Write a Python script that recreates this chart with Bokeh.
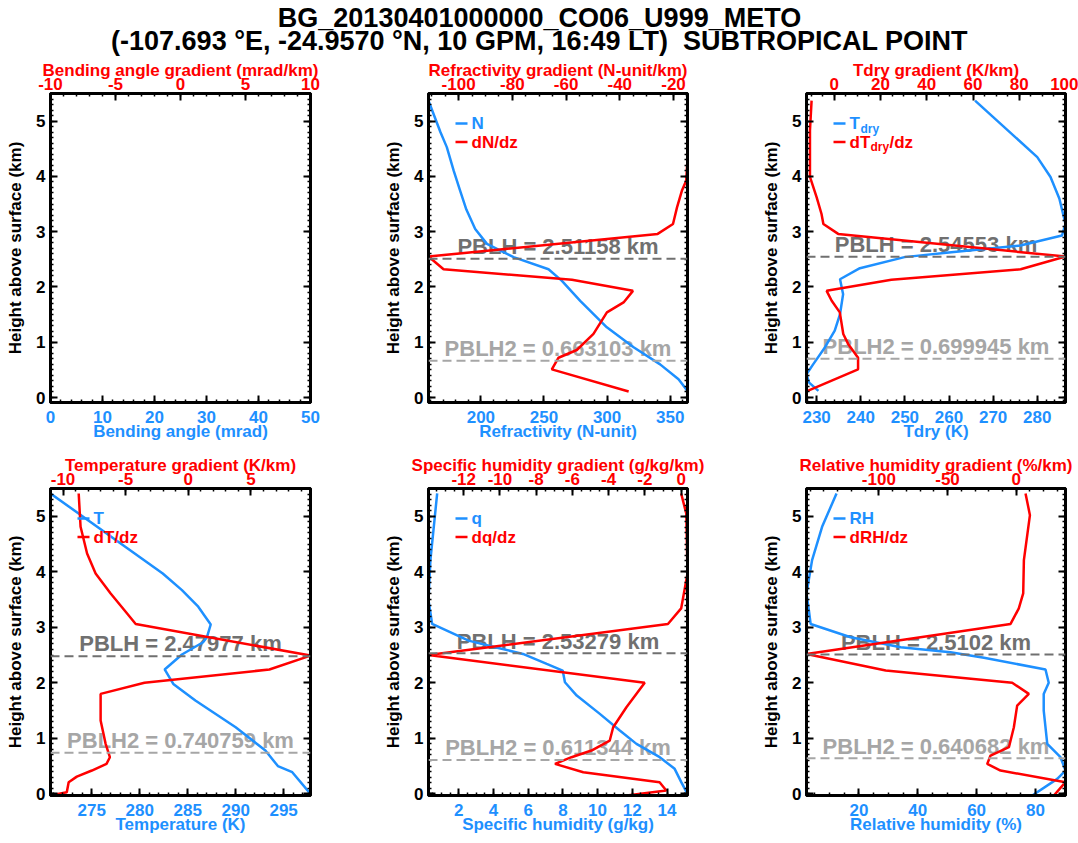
import numpy as np
from bokeh.plotting import figure
from bokeh.models import Range1d, LinearAxis, FixedTicker, Span, PrintfTickFormatter
from bokeh.layouts import column, row
from bokeh.embed import file_html
from bokeh.resources import INLINE
from bokeh.core.properties import value

BLUE = "#1E90FF"
RED = "#FF0000"
DARK = "#707070"
LIGHT = "#A6A6A6"
FONT = "Liberation Sans"

title_line1 = "BG_20130401000000_CO06_U999_METO"
title_line2 = "(-107.693 °E, -24.9570 °N, 10 GPM, 16:49 LT)\u00a0 SUBTROPICAL POINT"

# ---------------- data (height in km, value) ----------------
# Refractivity
n_z = [5.37, 4.80, 4.53, 4.10, 3.74, 3.40, 3.05, 2.78, 2.54, 2.32, 2.11, 1.75, 1.27, 0.91, 0.60, 0.33, 0.12]
n_val = [158.5, 168.0, 173.0, 178.5, 183.6, 188.5, 195.5, 204.8, 225.9, 253.6, 264.2, 278.7, 299.8, 321.0, 342.0, 356.6, 363.7]
dn_z = [5.37, 4.23, 3.92, 3.74, 3.44, 3.14, 2.96, 2.55, 2.32, 2.13, 1.93, 1.72, 1.54, 1.15, 0.86, 0.72, 0.51, 0.11]
dn_val = [-14.8, -14.9, -15.3, -16.9, -18.7, -20.2, -25.9, -111.2, -105.6, -57.8, -35.1, -38.6, -44.8, -49.8, -56.0, -62.8, -65.3, -36.7]

# Dry temperature
td_z = [5.37, 4.35, 3.99, 3.60, 3.14, 2.93, 2.75, 2.63, 2.54, 2.34, 2.14, 1.87, 1.51, 1.21, 0.91, 0.60, 0.42, 0.27, 0.12]
td_val = [265.9, 280.0, 283.0, 285.0, 286.4, 285.6, 276.2, 260.5, 249.9, 239.8, 235.3, 236.0, 235.3, 234.1, 231.9, 229.2, 227.7, 228.3, 230.4]
dtd_z = [5.37, 4.83, 3.99, 3.62, 3.32, 3.14, 2.96, 2.55, 2.32, 2.13, 1.93, 1.75, 1.54, 1.15, 0.97, 0.72, 0.51, 0.11]
dtd_val = [-9.8, -10.5, -10.5, -7.6, -5.5, -4.7, 1.7, 100.0, 80.6, 24.7, -3.3, -1.1, 2.4, 3.9, 6.0, 10.3, 10.3, -12.0]

# Temperature
t_z = [5.41, 3.97, 3.67, 3.37, 3.05, 2.82, 2.73, 2.51, 2.24, 1.98, 1.68, 1.20, 0.78, 0.50, 0.39, 0.00]
t_val = [270.7, 282.4, 284.4, 286.1, 287.4, 287.0, 286.6, 284.4, 282.6, 283.5, 285.8, 290.0, 293.1, 294.4, 295.9, 297.8]
dt_z = [5.41, 4.81, 4.33, 3.97, 3.61, 3.28, 3.06, 2.49, 2.24, 2.00, 1.80, 1.32, 0.90, 0.66, 0.54, 0.42, 0.31, 0.21, 0.03, -0.03]
dt_val = [-8.75, -8.6, -8.08, -7.4, -6.2, -5.0, -4.2, 9.75, 6.47, -3.5, -7.0, -7.0, -6.6, -6.26, -6.53, -7.7, -8.9, -9.55, -9.7, -11.0]

# Specific humidity
q_z = [5.41, 4.21, 3.49, 3.06, 2.76, 2.64, 2.52, 2.34, 2.22, 2.01, 1.77, 1.44, 1.14, 0.90, 0.66, 0.45, 0.21, 0.00]
q_val = [0.76, 0.37, 0.26, 0.47, 2.57, 4.10, 5.70, 7.07, 7.99, 8.12, 8.80, 10.13, 11.28, 12.24, 13.58, 14.44, 14.82, 15.18]
dq_z = [5.41, 5.05, 3.97, 3.34, 3.06, 2.50, 2.00, 1.56, 1.20, 0.96, 0.78, 0.66, 0.54, 0.39, 0.21, 0.06, -0.03]
dq_val = [0.0, 0.28, 0.35, 0.0, -0.73, -13.94, -2.01, -3.02, -3.75, -3.94, -4.95, -6.05, -6.96, -5.4, -1.19, -0.82, -3.0]

# Relative humidity
rh_z = [5.41, 4.81, 4.21, 3.61, 3.31, 3.06, 2.82, 2.64, 2.55, 2.45, 2.24, 2.00, 1.80, 1.50, 0.90, 0.66, 0.42, 0.27, -0.03]
rh_val = [12.4, 7.5, 4.1, 2.2, 3.0, 3.6, 17.2, 34.2, 51.1, 62.5, 83.4, 84.5, 82.8, 82.8, 84.0, 88.5, 90.2, 87.4, 78.9]
drh_z = [5.41, 5.02, 4.21, 3.61, 3.34, 3.06, 2.52, 2.22, 2.00, 1.80, 1.59, 1.20, 0.84, 0.69, 0.54, 0.42, 0.21, -0.03]
drh_val = [6.8, 10.0, 5.6, 5.1, 1.9, -4.1, -152.7, -95.0, -2.9, 9.2, 0.7, -1.7, -5.3, -18.7, -21.1, -11.4, 35.9, 27.4]

# PBLH values (km)
pblh_n, pblh2_n = 2.51158, 0.663103
pblh_td, pblh2_td = 2.54553, 0.699945
pblh_t, pblh2_t = 2.47977, 0.740759
pblh_q, pblh2_q = 2.53279, 0.611344
pblh_rh, pblh2_rh = 2.5102, 0.640682

# tick values
y_ticks = [0, 1, 2, 3, 4, 5]
ba_ticks, ba_top_ticks = [0, 10, 20, 30, 40, 50], [-10, -5, 0, 5, 10]
n_ticks, dn_ticks = [200, 250, 300, 350], [-100, -80, -60, -40, -20]
td_ticks, dtd_ticks = [230, 240, 250, 260, 270, 280], [0, 20, 40, 60, 80, 100]
t_ticks, dt_ticks = [275, 280, 285, 290, 295], [-10, -5, 0, 5]
q_ticks, dq_ticks = [2, 4, 6, 8, 10, 12, 14], [-12, -10, -8, -6, -4, -2, 0]
rh_ticks, drh_ticks = [20, 40, 60, 80], [-100, -50, 0]

# ---------------- geometry ----------------
TITLE_H = 56
COLS = [(50, 260, 65), (53, 259, 63), (56, 259, 13)]
ROWS = [(37, 309, 45, (-0.09, 5.5)), (41, 307, 48, (-0.03, 5.5))]


def minor(lo, hi, step):
    k0 = int(np.floor(lo / step)) - 1
    k1 = int(np.ceil(hi / step)) + 1
    return [round(k * step, 6) for k in range(k0, k1 + 1)]


def style_axis(ax, color):
    ax.formatter = PrintfTickFormatter(format="%d")
    ax.major_label_text_font = FONT
    ax.major_label_text_font_style = "bold"
    ax.major_label_text_font_size = "17px"
    ax.major_label_text_color = color
    ax.axis_label_text_font = FONT
    ax.axis_label_text_font_style = "bold"
    ax.axis_label_text_font_size = "17px"
    ax.axis_label_text_color = color
    ax.major_tick_in = 7
    ax.major_tick_out = 0
    ax.minor_tick_in = 3
    ax.minor_tick_out = 0
    ax.major_tick_line_width = 2
    ax.minor_tick_line_width = 1.5
    ax.major_tick_line_color = "black"
    ax.minor_tick_line_color = "black"
    ax.axis_line_width = 3
    ax.axis_line_color = "black"


def panel(ci, ri, xr, tr, xt, xm, tt, tm, xlabel, tlabel,
          blue=None, red=None, pbl=None, legend=None):
    L, fw, R = COLS[ci]
    T, fh, B, yr = ROWS[ri]
    p = figure(frame_width=fw, frame_height=fh,
               min_border_left=L, min_border_right=R,
               min_border_top=T, min_border_bottom=B,
               x_range=Range1d(*xr), y_range=Range1d(*yr),
               x_axis_location=None, y_axis_location=None,
               output_backend="svg", toolbar_location=None, tools="")
    p.extra_x_ranges = {"top": Range1d(*tr)}
    p.grid.visible = False
    p.outline_line_color = "black"
    p.outline_line_width = 3
    p.background_fill_color = "white"
    p.border_fill_color = "white"

    bx = LinearAxis(axis_label=xlabel, ticker=FixedTicker(ticks=xt, minor_ticks=minor(xr[0], xr[1], xm)))
    style_axis(bx, BLUE)
    bx.major_label_standoff = 8
    bx.axis_label_standoff = -4
    p.add_layout(bx, "below")

    tx = LinearAxis(x_range_name="top", axis_label=tlabel,
                    ticker=FixedTicker(ticks=tt, minor_ticks=minor(tr[0], tr[1], tm)))
    style_axis(tx, RED)
    tx.major_label_standoff = 4
    tx.axis_label_standoff = -5
    p.add_layout(tx, "above")

    ly = LinearAxis(axis_label="Height above surface (km)",
                    ticker=FixedTicker(ticks=y_ticks, minor_ticks=minor(yr[0], yr[1], 0.1)))
    style_axis(ly, "black")
    ly.major_label_standoff = 5
    ly.axis_label_standoff = 8
    p.add_layout(ly, "left")

    ry = LinearAxis(ticker=FixedTicker(ticks=y_ticks, minor_ticks=minor(yr[0], yr[1], 0.1)))
    style_axis(ry, "black")
    ry.major_label_text_font_size = "1px"
    ry.major_label_text_color = None
    ry.major_label_standoff = 0
    p.add_layout(ry, "right")

    if pbl is not None:
        h1, h2 = pbl
        xc = 0.5 * (xr[0] + xr[1])
        p.text(x=[xc], y=[h1 + 0.22], text=[f"PBLH = {h1:g} km"], text_align="center",
               text_baseline="alphabetic", text_font=value(FONT), text_font_style="bold",
               text_font_size="22px", text_color=DARK)
        p.text(x=[xc], y=[h2 + 0.22], text=[f"PBLH2 = {h2:g} km"], text_align="center",
               text_baseline="alphabetic", text_font=value(FONT), text_font_style="bold",
               text_font_size="22px", text_color=LIGHT)
    if blue is not None:
        p.line(blue[1], blue[0], line_color=BLUE, line_width=2.5)
    if red is not None:
        p.line(red[1], red[0], line_color=RED, line_width=2.5, x_range_name="top")
    if pbl is not None:
        p.add_layout(Span(location=pbl[0], dimension="width", line_color=DARK,
                          line_width=2, line_dash="9 5"))
        p.add_layout(Span(location=pbl[1], dimension="width", line_color=LIGHT,
                          line_width=2, line_dash="9 5"))
    if legend is not None:
        xa = xr[0] + 33.0 / fw * (xr[1] - xr[0])
        ya1 = yr[1] - 30.0 / fh * (yr[1] - yr[0])
        ya2 = yr[1] - 48.5 / fh * (yr[1] - yr[0])
        p.scatter([xa], [ya1], marker="dash", size=12, line_width=2.5, line_color=BLUE)
        p.scatter([xa], [ya2], marker="dash", size=12, line_width=2.5, line_color=RED)
        for (yy, col, parts) in ((ya1, BLUE, legend[0]), (ya2, RED, legend[1])):
            for (txt, dx, size, dy) in parts:
                p.text(x=[xa], y=[yy], text=[txt], x_offset=dx, y_offset=dy,
                       text_align="left", text_baseline="middle",
                       text_font=value(FONT), text_font_style="bold",
                       text_font_size=size, text_color=col)
    return p


def rng(v):
    return (min(v), max(v))


p1 = panel(0, 0, (0, 50), (-10, 10), ba_ticks, 2, ba_top_ticks, 1,
           "Bending angle (mrad)", "Bending angle gradient (mrad/km)")
p2 = panel(1, 0, rng(n_val), rng(dn_val), n_ticks, 10, dn_ticks, 5,
           "Refractivity (N-unit)", "Refractivity gradient (N-unit/km)",
           blue=(n_z, n_val), red=(dn_z, dn_val), pbl=(pblh_n, pblh2_n),
           legend=([("N", 10, "17px", 0)], [("dN/dz", 10, "17px", 0)]))
p3 = panel(2, 0, rng(td_val), rng(dtd_val), td_ticks, 2, dtd_ticks, 5,
           "Tdry (K)", "Tdry gradient (K/km)",
           blue=(td_z, td_val), red=(dtd_z, dtd_val), pbl=(pblh_td, pblh2_td),
           legend=([("T", 10, "17px", 0), ("dry", 21, "12px", 5)],
                   [("dT", 10, "17px", 0), ("dry", 31, "12px", 5), ("/dz", 50, "17px", 0)]))
p4 = panel(0, 1, rng(t_val), rng(dt_val), t_ticks, 1, dt_ticks, 1,
           "Temperature (K)", "Temperature gradient (K/km)",
           blue=(t_z, t_val), red=(dt_z, dt_val), pbl=(pblh_t, pblh2_t),
           legend=([("T", 10, "17px", 0)], [("dT/dz", 10, "17px", 0)]))
p5 = panel(1, 1, rng(q_val), rng(dq_val), q_ticks, 0.5, dq_ticks, 0.5,
           "Specific humidity (g/kg)", "Specific humidity gradient (g/kg/km)",
           blue=(q_z, q_val), red=(dq_z, dq_val), pbl=(pblh_q, pblh2_q),
           legend=([("q", 10, "17px", 0)], [("dq/dz", 10, "17px", 0)]))
p6 = panel(2, 1, rng(rh_val), rng(drh_val), rh_ticks, 5, drh_ticks, 10,
           "Relative humidity (%)", "Relative humidity gradient (%/km)",
           blue=(rh_z, rh_val), red=(drh_z, drh_val), pbl=(pblh_rh, pblh2_rh),
           legend=([("RH", 10, "17px", 0)], [("dRH/dz", 10, "17px", 0)]))

# title
pt = figure(width=1078, height=TITLE_H, x_range=Range1d(0, 1078), y_range=Range1d(0, TITLE_H),
            x_axis_location=None, y_axis_location=None, min_border=0,
            output_backend="svg", toolbar_location=None, tools="")
pt.grid.visible = False
pt.outline_line_color = None
pt.text(x=[539, 539], y=[TITLE_H - 17, TITLE_H - 40], text=[title_line1, title_line2],
        text_align="center", text_baseline="middle", text_font=value(FONT),
        text_font_style="bold", text_font_size="27px", text_color="black")

layout = column(pt, row(p1, p2, p3), row(p4, p5, p6))
open("out.html", "w").write(file_html(layout, INLINE))
